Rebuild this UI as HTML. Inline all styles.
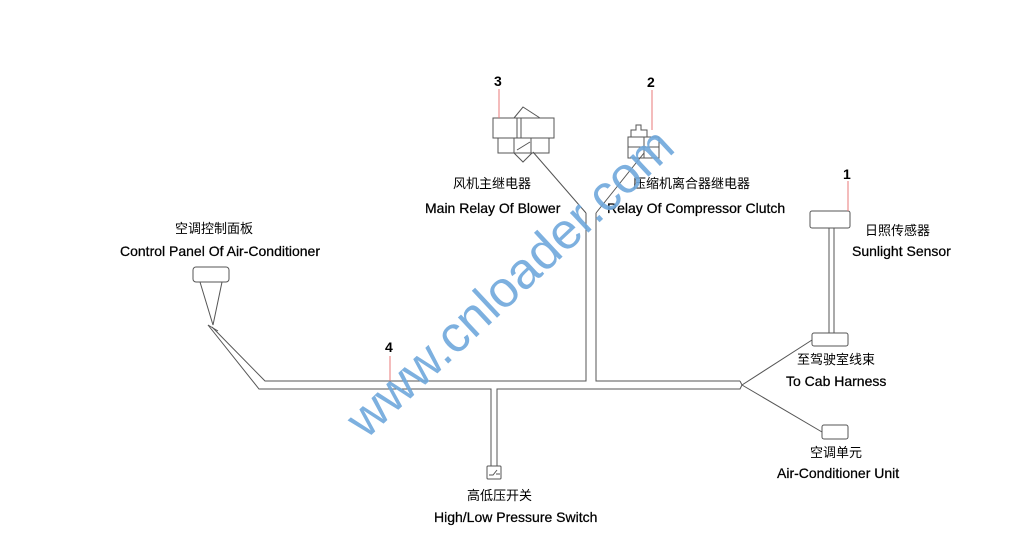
<!DOCTYPE html>
<html><head><meta charset="utf-8"><style>
body{margin:0;background:#fff}
svg{display:block}
text{font-family:"Liberation Sans","Noto Sans CJK SC",sans-serif;font-size:13px;fill:#000}
.e{font-size:14px;stroke:#000;stroke-width:0.25}
.n{font-weight:bold;font-size:14px}
</style></head><body>
<svg width="1024" height="550" viewBox="0 0 1024 550">
<g fill="none" stroke="#555" stroke-width="1">
<path d="M212,327 L265,381 L586,381 L586,213 M596,213 L596,381 L740,381"/>
<path d="M208,325 L259,389 L491,389 L491,466 M497,466 L497,389 L740,389 L742,385 L740,381"/>
<path d="M208,325 L218,331"/>
<rect x="193" y="267" width="36" height="15" rx="3"/>
<path d="M200,282 L213,325 L222,282"/>
<rect x="493" y="118" width="61" height="20"/>
<rect x="498" y="138" width="51" height="15"/>
<path d="M514,118 L523,107 L540,118 M517,118 V138 M521,118 V138 M514,138 V153 M531,138 V153 M514,153 L523,162 L532,153 M517,150 L530,142"/>
<path d="M533,152 L586,213 M596,213 L644,153"/>
<path d="M628,137 H659 V158 H628 Z M631,137 V130 H636 V125 H641 V130 H647 V137 M644,137 V158 M628,147 H659"/>
<rect x="810" y="211" width="40" height="17" rx="2"/>
<path d="M829,228 V333 M834,228 V333"/>
<rect x="812" y="333" width="36" height="13" rx="2"/>
<path d="M742,385 L812,340 M742,385 L822,432"/>
<rect x="822" y="425" width="26" height="14" rx="2"/>
<rect x="487" y="466" width="14" height="13" rx="1"/>
<path d="M489,475 H493 L497,470 M496,474 H500"/>
</g>
<g stroke="#e87878" stroke-width="1">
<line x1="499" y1="89" x2="499" y2="118"/>
<line x1="652" y1="90" x2="652" y2="130"/>
<line x1="848" y1="181" x2="848" y2="211"/>
<line x1="390" y1="356" x2="390" y2="381"/>
</g>
<text class="n" x="494" y="86">3</text>
<text class="n" x="647" y="87">2</text>
<text class="n" x="843" y="179">1</text>
<text class="n" x="385" y="352">4</text>
<text x="453" y="188">风机主继电器</text>
<text class="e" x="425" y="213">Main Relay Of Blower</text>
<text x="633" y="188">压缩机离合器继电器</text>
<text class="e" x="607" y="213">Relay Of Compressor Clutch</text>
<text x="865" y="235">日照传感器</text>
<text class="e" x="852" y="256">Sunlight Sensor</text>
<text x="175" y="233">空调控制面板</text>
<text class="e" x="120" y="256">Control Panel Of Air-Conditioner</text>
<text x="797" y="364">至驾驶室线束</text>
<text class="e" x="786" y="386">To Cab Harness</text>
<text x="810" y="457">空调单元</text>
<text class="e" x="777" y="478">Air-Conditioner Unit</text>
<text x="467" y="500">高低压开关</text>
<text class="e" x="434" y="522">High/Low Pressure Switch</text>
<text x="0" y="0" transform="translate(366,440) rotate(-43)" style="font-size:51px;fill:#6fa8dc;opacity:0.9">www.cnloader.com</text>
</svg>
</body></html>
